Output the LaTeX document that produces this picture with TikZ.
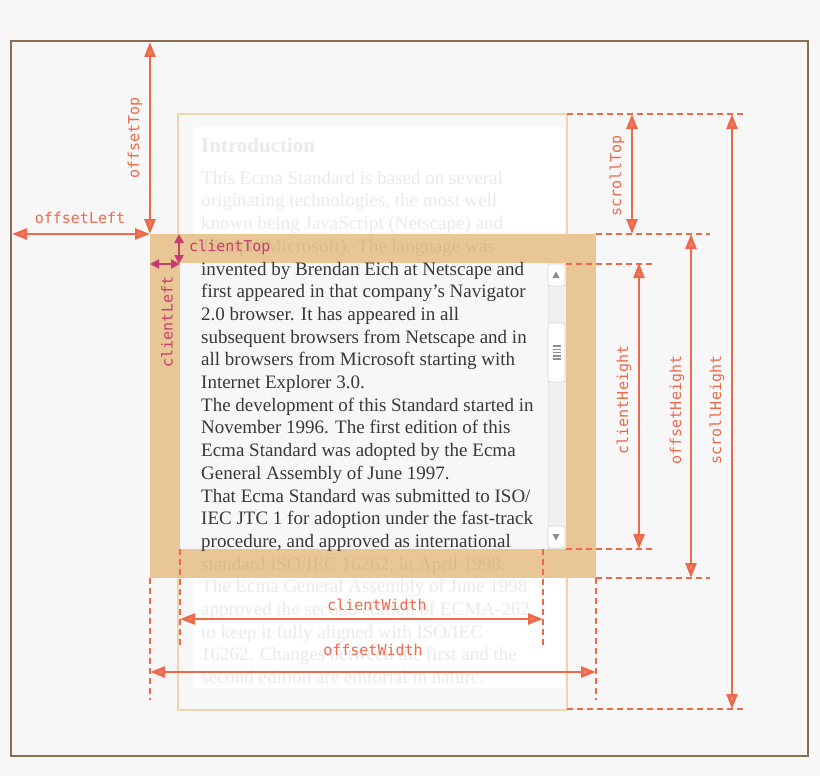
\documentclass[tikz,border=0pt]{standalone}
\usepackage{fontspec}
\setmainfont{Liberation Serif}
\newfontfamily\monof{DejaVu Sans Mono}
\usetikzlibrary{arrows.meta}
\definecolor{bgc}{HTML}{F7F7F7}
\definecolor{framec}{HTML}{8A6E4E}
\definecolor{tanc}{HTML}{E8C695}
\definecolor{tanline}{HTML}{EFD5AE}
\definecolor{ac}{HTML}{EC6A4B}
\definecolor{mc}{HTML}{C73E6E}
\definecolor{fadec}{HTML}{EAEAEA}
\definecolor{bandtxt}{HTML}{DBBA8A}
\definecolor{darktxt}{HTML}{383838}
\definecolor{sbtrack}{HTML}{F0F0F0}
\definecolor{sbline}{HTML}{D6D6D6}
\definecolor{sbglyph}{HTML}{8E8E8E}
\tikzset{
  txt/.style={anchor=base west, inner sep=0pt, font=\fontsize{19}{22}\selectfont},
  fadetxt/.style={txt, text=fadec},
  bandt/.style={txt, text=bandtxt},
  darkt/.style={txt, text=darktxt},
  lbl/.style={inner sep=0pt, text=ac, font=\monof\fontsize{15}{15}\selectfont},
  mlbl/.style={lbl, text=mc},
  dim/.style={draw=ac, line width=2.6pt, {Triangle[length=15pt,width=11pt,fill=ac!85!white]}-{Triangle[length=15pt,width=11pt,fill=ac!85!white]}},
  mdim/.style={draw=mc, line width=2.6pt, {Triangle[length=9pt,width=9pt]}-{Triangle[length=9pt,width=9pt]}},
  dsh/.style={draw=ac, line width=2pt, dash pattern=on 6pt off 4pt},
  sbbtn/.style={fill=white, draw=sbline, line width=0.8pt, rounded corners=2pt}
}
\begin{document}
\begin{tikzpicture}[x=1pt,y=-1pt]
\useasboundingbox (0,0) rectangle (820,776);
\fill[bgc] (0,0) rectangle (820,776);
% outer frame
\draw[framec, line width=2.5pt] (11,41) rectangle (808,756);
% scroll content box
\draw[tanline, line width=2pt, fill=bgc] (178,114) rectangle (567,710);
\fill[white] (193,127) rectangle (565,688);
% element border
\fill[tanc] (150,234) rectangle (596,578);
\fill[bgc] (180,263) rectangle (566,549);
% scrollbar
\fill[sbtrack] (548,263) rectangle (566,549);
\draw[sbline!60, line width=0.6pt] (548,263) -- (548,549);
\draw[sbbtn] (548,264) rectangle (565,286);
\fill[sbglyph] (552.5,278) -- (559.5,278) -- (556,271.5) -- cycle;
\draw[sbbtn] (548,323) rectangle (565,382);
\foreach \yy in {346,349.3,352.6,355.9,359.2} \draw[sbglyph, line width=1.6pt] (552.5,\yy) -- (561,\yy);
\draw[sbbtn] (548,526) rectangle (565,548);
\fill[sbglyph] (552.5,534) -- (559.5,534) -- (556,540.5) -- cycle;
% text
\node[fadetxt, font=\bfseries\fontsize{21}{24}\selectfont] (t0) at (201,152) {Introduction};
\node[fadetxt] (t1) at (201,184.2) {This Ecma Standard is based on several};
\node[fadetxt] (t2) at (201,206.9) {originating technologies, the most well};
\node[fadetxt] (t3) at (201,229.6) {known being JavaScript (Netscape) and};
\node[bandt] (t4) at (201,252.3) {JScript (Microsoft). The language was};
\node[darkt] (t5) at (201,275.0) {invented by Brendan Eich at Netscape and};
\node[darkt] (t6) at (201,297.7) {first appeared in that company’s Navigator};
\node[darkt] (t7) at (201,320.4) {2.0 browser. It has appeared in all};
\node[darkt] (t8) at (201,343.1) {subsequent browsers from Netscape and in};
\node[darkt] (t9) at (201,365.8) {all browsers from Microsoft starting with};
\node[darkt] (t10) at (201,388.5) {Internet Explorer 3.0.};
\node[darkt] (t11) at (201,411.2) {The development of this Standard started in};
\node[darkt] (t12) at (201,433.9) {November 1996. The first edition of this};
\node[darkt] (t13) at (201,456.6) {Ecma Standard was adopted by the Ecma};
\node[darkt] (t14) at (201,479.3) {General Assembly of June 1997.};
\node[darkt] (t15) at (201,502.0) {That Ecma Standard was submitted to ISO/};
\node[darkt] (t16) at (201,524.7) {IEC JTC 1 for adoption under the fast-track};
\node[darkt] (t17) at (201,547.4) {procedure, and approved as international};
\node[bandt] (t18) at (201,570.1) {standard ISO/IEC 16262, in April 1998.};
\node[fadetxt] (t19) at (201,592.8) {The Ecma General Assembly of June 1998};
\node[fadetxt] (t20) at (201,615.5) {approved the second edition of ECMA-262};
\node[fadetxt] (t21) at (201,638.2) {to keep it fully aligned with ISO/IEC};
\node[fadetxt] (t22) at (201,660.9) {16262. Changes between the first and the};
\node[fadetxt] (t23) at (201,683.6) {second edition are editorial in nature.};
% coordinates
\coordinate (otA) at (150,42);
\coordinate (otB) at (150,234);
\coordinate (olA) at (12,234);
\coordinate (olB) at (150,234);
\coordinate (ctA) at (179,234);
\coordinate (ctB) at (179,264);
\coordinate (clA) at (150,264);
\coordinate (clB) at (180,264);
\coordinate (stA) at (632,114);
\coordinate (stB) at (632,234);
\coordinate (chA) at (639,263);
\coordinate (chB) at (639,549);
\coordinate (ohA) at (691,234);
\coordinate (ohB) at (691,578);
\coordinate (shA) at (732,114);
\coordinate (shB) at (732,709);
\coordinate (cwA) at (180,619);
\coordinate (cwB) at (543,619);
\coordinate (owA) at (150,672);
\coordinate (owB) at (596,672);
% dashed guide lines
\draw[dsh] (567,114) -- (744,114);
\draw[dsh] (596,234) -- (710,234);
\draw[dsh] (566,264) -- (655,264);
\draw[dsh] (566,549) -- (655,549);
\draw[dsh] (596,578) -- (710,578);
\draw[dsh] (567,709) -- (744,709);
\draw[dsh] (596,578) -- (596,700);
\draw[dsh] (150,578) -- (150,700);
\draw[dsh] (180,549) -- (180,648);
\draw[dsh] (543,549) -- (543,648);
% dimension arrows
\draw[dim] (otA) -- (otB);
\draw[dim] (olA) -- (olB);
\draw[dim] (stA) -- (stB);
\draw[dim] (chA) -- (chB);
\draw[dim] (ohA) -- (ohB);
\draw[dim] (shA) -- (shB);
\draw[dim] (cwA) -- (cwB);
\draw[dim] (owA) -- (owB);
\draw[mdim] (ctA) -- (ctB);
\draw[mdim] (clA) -- (clB);
% labels
\node[lbl, rotate=90] (lot) at (135,138) {offsetTop};
\node[lbl] (lol) at (80,218) {offsetLeft};
\node[mlbl, anchor=west] (lct) at (189,247) {clientTop};
\node[mlbl, rotate=90] (lcl) at (167,322) {clientLeft};
\node[lbl, rotate=90] (lst) at (617,176) {scrollTop};
\node[lbl, rotate=90] (lch) at (624,400) {clientHeight};
\node[lbl, rotate=90] (loh) at (677,410) {offsetHeight};
\node[lbl, rotate=90] (lsh) at (717,410) {scrollHeight};
\node[lbl] (lcw) at (377,605) {clientWidth};
\node[lbl] (low) at (373,650) {offsetWidth};
\end{tikzpicture}
\end{document}
